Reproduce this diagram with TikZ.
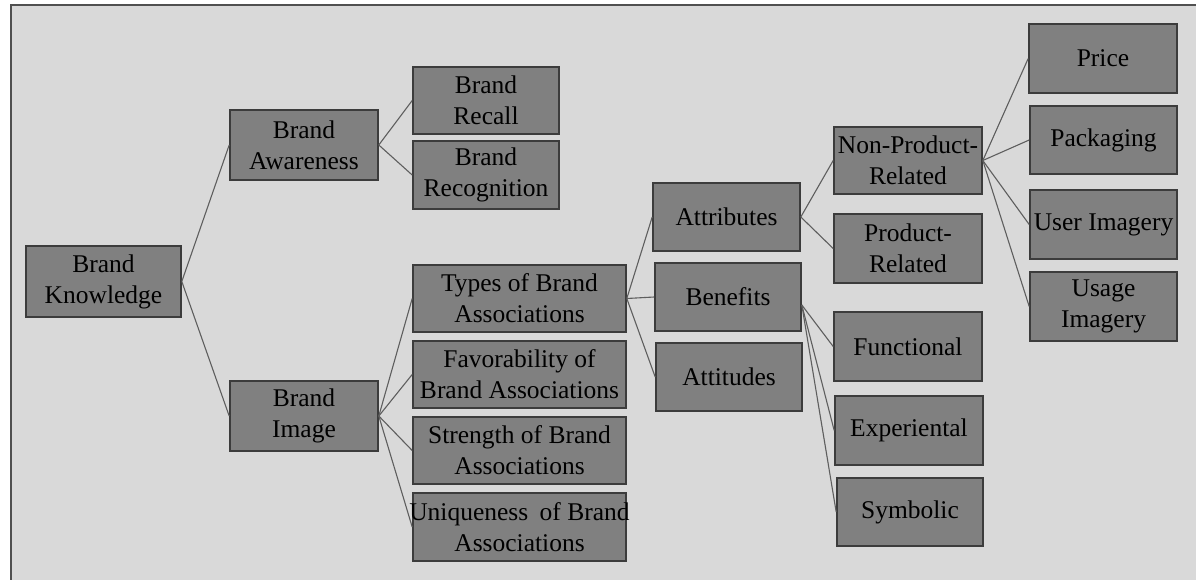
\documentclass[tikz,border=0pt]{standalone}
\usepackage{fontspec}
\setmainfont{Liberation Serif}
\definecolor{panel}{HTML}{D9D9D9}
\definecolor{frameline}{HTML}{505050}
\definecolor{boxfill}{HTML}{808080}
\definecolor{boxline}{HTML}{3C3C3C}
\definecolor{wire}{HTML}{5E5E5E}
\tikzset{
  box/.style={draw=boxline, fill=boxfill, line width=1.6pt, inner sep=0pt,
    align=center, text=black, font=\fontsize{25.5}{31}\selectfont},
  bw/.style={minimum width=#1},
  bh/.style={minimum height=#1},
  link/.style={draw=wire, line width=1.1pt}
}
\begin{document}
\begin{tikzpicture}[x=1pt,y=-1pt]
\useasboundingbox (0,0) rectangle (1196,580);
% page and panel
\fill[white] (0,0) rectangle (1196,580);
\fill[panel] (11,5) rectangle (1196,580);
\draw[frameline, line width=2.2pt] (11,582) -- (11,5) -- (1196,5);

% level 0 and 1
\node[box, bw=155pt, bh=71pt] (bk) at (103.5,281.5) {Brand\\Knowledge};
\node[box, bw=148pt, bh=70pt] (ba) at (304,145) {Brand\\Awareness};
\node[box, bw=148pt, bh=70pt] (bi) at (304,416) {Brand\\Image};

% awareness branch
\node[box, bw=146pt, bh=67pt] (rc) at (486,100.5) {Brand\\Recall};
\node[box, bw=146pt, bh=68pt] (rg) at (486,175) {Brand\\Recognition};

% image branch
\node[box, bw=213pt, bh=67pt] (ty) at (519.5,298.5) {Types of Brand\\Associations};
\node[box, bw=213pt, bh=67pt] (fa) at (519.5,374.5) {Favorability of\\Brand Associations};
\node[box, bw=213pt, bh=67pt] (st) at (519.5,450.5) {Strength of Brand\\Associations};
\node[box, bw=213pt, bh=68pt] (un) at (519.5,527)
  {\makebox[200pt][c]{Uniqueness\hspace{0.45em}of Brand}\\Associations};

% types of associations
\node[box, bw=147pt, bh=68pt] (at) at (726.5,217) {Attributes};
\node[box, bw=146pt, bh=68pt] (be) at (728,297) {Benefits};
\node[box, bw=146pt, bh=68pt] (au) at (729,377) {Attitudes};

% attributes and benefits
\node[box, bw=148pt, bh=67pt] (np) at (908,160.5) {Non-Product-\\Related};
\node[box, bw=148pt, bh=69pt] (pr) at (908,248.5) {Product-\\Related};
\node[box, bw=148pt, bh=69pt] (fu) at (908,346.5) {Functional};
\node[box, bw=148pt, bh=69pt] (ex) at (909,430.5) {Experiental};
\node[box, bw=146pt, bh=68pt] (sy) at (910,512) {Symbolic};

% non-product-related attributes
\node[box, bw=148pt, bh=69pt] (pc) at (1103,58.5) {Price};
\node[box, bw=147pt, bh=68pt] (pk) at (1103.5,140) {Packaging};
\node[box, bw=147pt, bh=69pt] (ui) at (1103.5,224.5) {User Imagery};
\node[box, bw=147pt, bh=69pt] (us) at (1103.5,306.5) {Usage\\Imagery};

% connectors
\draw[link] (bk.east) -- (ba.west);
\draw[link] (bk.east) -- (bi.west);
\draw[link] (ba.east) -- (rc.west);
\draw[link] (ba.east) -- (rg.west);
\draw[link] (bi.east) -- (ty.west);
\draw[link] (bi.east) -- (fa.west);
\draw[link] (bi.east) -- (st.west);
\draw[link] (bi.east) -- (un.west);
\draw[link] (ty.east) -- (at.west);
\draw[link] (ty.east) -- (be.west);
\draw[link] (ty.east) -- (au.west);
\draw[link] (at.east) -- (np.west);
\draw[link] (at.east) -- (pr.west);
\draw[link] ([yshift=-8pt]be.east) -- (fu.west);
\draw[link] ([yshift=-8pt]be.east) -- (ex.west);
\draw[link] ([yshift=-8pt]be.east) -- (sy.west);
\draw[link] (np.east) -- (pc.west);
\draw[link] (np.east) -- (pk.west);
\draw[link] (np.east) -- (ui.west);
\draw[link] (np.east) -- (us.west);
\end{tikzpicture}
\end{document}
